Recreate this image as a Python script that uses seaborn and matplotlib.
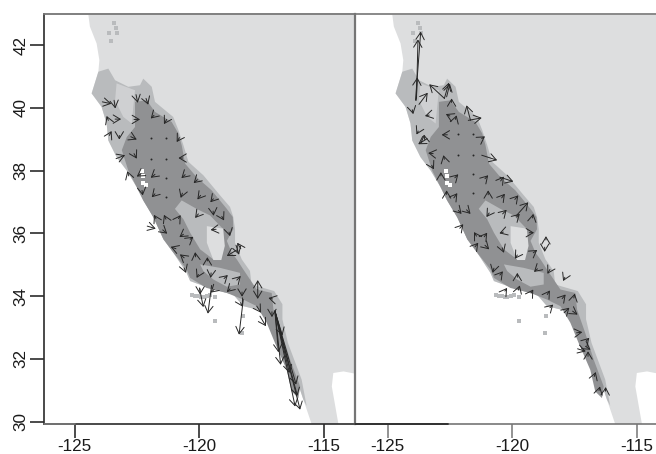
import numpy as np
import pandas as pd
import matplotlib
matplotlib.use("Agg")
import matplotlib.pyplot as plt
from matplotlib.patches import FancyArrowPatch
import seaborn as sns

# map outlines, lon / lat
land_lon = [-124.45,-124.39,-124.12,-124.01,-124.05,-124.32,-123.92,-123.72,-123.65,-123.32,-122.91,-122.51,-122.25,-121.84,-121.44,-121.04,-120.51,-120.37,-119.44,-118.64,-118.24,-117.17,-117.03,-116.50,-116.10,-115.83,-115.49,-114.42,-114.69,-114.63,-114.22,-113.2,-113.2]
land_lat = [42.96,42.59,42.05,41.52,41.15,40.46,40.03,39.50,38.96,38.43,38.00,37.47,37.05,36.52,35.81,35.38,34.74,34.48,34.21,34.05,33.68,33.47,32.93,32.19,31.34,30.70,29.90,29.90,31.12,31.55,31.60,31.44,42.96]

mid_lon = [-124.05,-123.65,-123.38,-122.85,-122.38,-122.25,-121.91,-121.78,-121.05,-120.84,-120.64,-120.44,-119.84,-119.17,-118.77,-118.64,-118.57,-118.57,-118.30,-117.97,-117.91,-117.00,-116.67,-116.67,-116.45,-115.90,-115.70,-115.83,-116.10,-116.50,-117.03,-117.17,-118.24,-118.64,-119.44,-120.37,-120.51,-121.04,-121.44,-121.84,-122.25,-122.51,-122.91,-123.32,-123.65,-123.72,-123.92,-124.32]
mid_lat = [41.15,41.25,40.88,40.67,40.72,40.93,40.67,40.19,39.71,39.29,38.81,38.28,37.85,37.21,36.84,36.52,36.13,35.70,35.17,34.80,34.37,34.16,33.74,33.26,32.51,31.34,30.50,30.70,31.34,32.19,32.93,33.47,33.68,34.05,34.21,34.48,34.74,35.38,35.81,36.52,37.05,37.47,38.00,38.43,38.96,39.50,40.03,40.46]

dark_lon = [-122.58,-122.11,-121.78,-121.11,-120.84,-120.71,-120.57,-120.11,-119.51,-118.90,-118.66,-118.64,-118.90,-118.70,-118.50,-118.24,-117.70,-117.10,-117.03,-116.70,-116.36,-115.96,-116.03,-116.30,-116.50,-116.97,-117.30,-117.70,-118.24,-118.90,-119.71,-120.37,-120.51,-121.04,-121.44,-121.84,-122.25,-122.51,-122.85,-123.11,-122.91,-122.58]
dark_lat = [40.19,40.24,39.87,39.55,39.18,38.81,38.22,37.79,37.37,36.78,36.52,36.13,35.76,35.38,35.17,34.85,34.21,34.10,33.57,32.82,31.97,31.12,30.75,30.96,31.65,32.51,33.15,33.68,33.89,34.10,34.26,34.58,34.85,35.38,35.81,36.50,37.05,37.47,38.00,38.65,39.07,39.39]

valley_lon = [-120.71,-120.11,-119.57,-119.04,-119.04,-119.10,-119.44,-119.97,-120.37,-120.64,-120.98]
valley_lat = [37.05,36.78,36.57,36.13,35.70,35.28,35.17,35.49,36.02,36.45,36.78]

south_lon = [-119.97,-119.17,-118.37,-118.37,-118.90,-119.44,-119.84]
south_lat = [35.01,34.90,34.74,34.37,34.30,34.53,34.80]

hole_lon = [-119.70,-119.05,-118.98,-119.12,-119.44,-119.70]
hole_lat = [36.23,36.15,35.60,35.15,35.15,35.70]

north_lon = [-123.32,-122.58,-122.65,-122.71,-123.05,-123.38]
north_lat = [40.78,40.56,40.03,39.50,39.71,40.24]

spot_lon = [-123.42,-123.34,-123.29,-123.63,-123.55,-120.30,-120.18,-120.05,-119.93,-119.84,-119.70,-119.57,-119.37,-119.37,-118.26,-118.30]
spot_lat = [42.69,42.53,42.39,42.39,42.12,34.02,34.00,34.00,33.98,33.98,34.00,34.02,33.98,33.20,33.36,32.83]

bay_lon = [-122.31,-122.26,-122.27,-122.15]
bay_lat = [37.99,37.83,37.60,37.53]

map_shift = 0.36  # right panel map sits this far west of the left one

# arrows, left panel
left_lon0 = [-123.89,-123.42,-123.65,-123.38,-122.62,-122.54,-122.14,-121.82,-121.31,-120.80,-123.61,-123.21,-122.75,-123.34,-122.62,-120.67,-122.83,-122.34,-121.78,-120.57,-120.08,-122.30,-121.78,-120.68,-119.95,-119.44,-120.04,-119.45,-119.10,-121.74,-121.34,-120.84,-122.09,-121.47,-120.64,-120.37,-120.94,-119.33,-118.81,-118.50,-118.53,-118.34,-120.61,-120.15,-119.68,-120.61,-120.04,-119.53,-119.01,-118.50,-118.77,-118.29,-117.66,-117.66,-117.07,-119.97,-120.00,-119.51,-119.41,-118.24,-118.35,-117.70,-117.57,-117.09,-116.97,-116.97,-116.97,-116.97,-116.97,-116.97,-116.97,-116.97]
left_lat0 = [40.19,40.24,39.60,39.64,39.63,40.42,40.30,39.76,39.63,39.05,39.12,39.12,39.08,38.38,38.54,38.40,37.83,37.90,37.88,37.87,37.71,37.37,37.26,37.28,37.21,37.10,36.62,36.71,36.54,36.47,36.45,36.47,36.23,36.11,35.97,35.81,35.51,36.13,36.04,35.47,35.62,35.51,35.22,35.25,35.12,34.90,34.69,34.74,34.56,34.51,34.23,34.13,34.21,34.21,33.91,34.23,34.26,34.34,34.21,33.89,33.79,33.68,33.36,33.50,33.52,33.52,33.52,33.52,33.52,33.52,33.52,33.52]
left_lon1 = [-123.53,-123.37,-123.72,-123.14,-122.38,-122.47,-122.05,-121.95,-121.42,-120.91,-123.52,-123.21,-122.51,-122.98,-122.51,-120.84,-122.89,-122.51,-121.95,-120.72,-120.23,-122.27,-121.91,-120.75,-120.08,-119.56,-120.17,-119.43,-119.01,-121.82,-121.42,-120.75,-121.75,-121.29,-120.80,-120.24,-121.15,-119.55,-118.77,-118.90,-118.41,-118.48,-120.78,-120.17,-119.68,-120.54,-120.11,-119.55,-118.86,-118.34,-118.90,-118.29,-117.66,-117.66,-117.23,-119.97,-119.84,-119.66,-119.55,-118.41,-118.26,-117.53,-117.33,-117.09,-115.96,-116.16,-116.07,-116.12,-116.39,-116.74,-116.83,-116.67]
left_lat1 = [40.13,39.98,39.74,39.64,39.63,40.16,40.10,39.66,39.48,38.91,39.26,38.99,38.99,38.49,38.38,38.40,37.98,37.81,37.77,37.76,37.60,37.21,37.15,37.13,37.08,36.99,36.49,36.56,36.41,36.59,36.59,36.58,36.15,35.99,35.88,35.89,35.57,36.11,35.91,35.28,35.32,35.70,35.33,35.40,35.24,34.74,34.58,34.58,34.67,34.64,34.13,33.98,34.51,33.91,33.94,34.05,33.65,33.44,34.11,32.77,33.66,33.47,33.04,33.33,30.38,30.48,30.82,31.18,31.55,31.81,32.21,32.74]

left_dot_lon = [-121.95,-121.34,-121.95,-121.34,-121.34,-121.34]
left_dot_lat = [39.05,39.05,38.38,38.38,37.76,37.15]

# arrows, right panel
right_lon0 = [-123.88,-123.84,-123.85,-123.74,-122.72,-122.72,-122.63,-124.01,-123.33,-122.43,-121.67,-121.76,-122.50,-122.28,-122.60,-121.22,-123.77,-123.41,-123.51,-123.17,-122.72,-121.22,-123.23,-122.86,-122.30,-121.09,-120.49,-120.46,-122.63,-122.34,-120.96,-120.42,-119.89,-119.82,-119.18,-119.82,-120.38,-120.92,-122.16,-121.83,-122.10,-121.43,-121.12,-121.49,-121.09,-120.35,-119.31,-120.40,-119.79,-119.15,-118.64,-118.69,-118.98,-118.48,-117.88,-120.73,-120.49,-119.79,-120.29,-119.75,-119.24,-118.59,-117.99,-117.52,-118.48,-117.91,-117.57,-117.41,-117.03,-117.05,-117.37,-116.95,-116.70,-116.51,-116.25]
right_lat0 = [40.24,40.30,40.24,40.11,40.30,40.30,40.35,39.94,39.77,40.17,39.60,39.60,39.74,39.63,39.14,39.02,39.26,39.02,38.99,38.54,38.36,38.49,38.17,37.83,37.77,37.74,37.79,37.67,37.24,37.13,37.23,37.13,37.08,36.57,36.49,36.52,36.62,36.65,36.73,36.75,36.16,35.91,35.89,35.57,35.62,36.04,36.02,35.54,35.31,35.38,35.79,35.56,34.87,34.85,34.60,34.89,34.67,34.60,34.16,34.19,34.10,34.05,33.92,33.94,33.63,33.47,33.52,32.83,32.56,32.40,32.32,32.08,31.44,30.99,30.97]
right_lon1 = [-123.67,-123.78,-123.81,-123.39,-123.33,-122.54,-122.50,-123.97,-123.50,-122.43,-121.83,-121.22,-122.66,-122.23,-122.83,-121.09,-123.84,-123.77,-123.54,-123.37,-122.76,-120.60,-123.14,-122.86,-122.16,-120.96,-119.95,-120.33,-122.63,-122.20,-120.96,-120.29,-119.75,-119.35,-119.15,-119.69,-120.22,-121.03,-122.03,-121.67,-121.96,-121.53,-121.00,-121.36,-120.92,-120.51,-119.12,-120.33,-119.89,-118.99,-118.64,-118.69,-119.12,-118.58,-117.95,-120.78,-120.37,-119.79,-120.20,-119.69,-119.15,-118.48,-117.85,-117.48,-118.35,-117.70,-117.37,-117.18,-116.90,-116.85,-117.04,-116.95,-116.64,-116.47,-116.24]
right_lat1 = [42.43,42.18,40.97,40.48,40.75,40.80,40.77,39.80,39.74,40.30,40.08,39.68,39.80,39.76,39.14,39.09,39.15,38.84,39.15,38.56,38.49,38.33,38.04,37.95,37.88,37.85,37.65,37.81,37.37,37.28,37.37,37.26,37.21,36.99,36.62,36.62,36.75,36.52,36.62,36.62,36.29,36.04,36.02,35.70,35.49,36.00,36.02,35.38,35.19,35.47,35.91,35.41,34.77,34.71,34.48,34.74,34.79,34.74,34.26,34.34,34.21,34.18,34.05,34.08,33.73,33.63,33.41,32.85,32.67,32.29,32.24,32.24,31.58,31.12,31.10]

right_dot_lon = [-122.19,-121.56,-122.19,-121.56,-121.56,-121.56]
right_dot_lat = [39.15,39.15,38.49,38.49,37.90,37.28]

x_ticks = [-125, -120, -115]
y_ticks = [30, 32, 34, 36, 38, 40, 42]

land_col = "#dddedf"
north_col = "#cfd0d2"
mid_col = "#b9bbbd"
dark_col = "#909193"
arrow_col = "#262626"
edge_dark = "#2b2b2b"
edge_grey = "#757575"

sns.set_theme(style="ticks")
plt.rcParams["font.family"] = ["Liberation Sans", "DejaVu Sans"]


def draw_panel(ax, shift, lon0, lat0, lon1, lat1, dot_lon, dot_lat):
    ax.fill(np.array(land_lon) - shift, land_lat, color=land_col, lw=0)
    ax.fill(np.array(mid_lon) - shift, mid_lat, color=mid_col, lw=0)
    ax.fill(np.array(north_lon) - shift, north_lat, color=north_col, lw=0)
    ax.fill(np.array(dark_lon) - shift, dark_lat, color=dark_col, lw=0)
    ax.fill(np.array(valley_lon) - shift, valley_lat, color=mid_col, lw=0)
    ax.fill(np.array(south_lon) - shift, south_lat, color=mid_col, lw=0)
    ax.fill(np.array(hole_lon) - shift, hole_lat, color=land_col, lw=0)

    spots = pd.DataFrame({"lon": np.array(spot_lon) - shift, "lat": spot_lat})
    sns.scatterplot(data=spots, x="lon", y="lat", ax=ax, marker="s", s=5,
                    color=mid_col, linewidth=0, legend=False)
    bay = pd.DataFrame({"lon": np.array(bay_lon) - shift, "lat": bay_lat})
    sns.scatterplot(data=bay, x="lon", y="lat", ax=ax, marker="s", s=10,
                    color="white", linewidth=0, legend=False)

    dots = pd.DataFrame({"lon": dot_lon, "lat": dot_lat})
    sns.scatterplot(data=dots, x="lon", y="lat", ax=ax, s=2,
                    color=arrow_col, linewidth=0, legend=False)

    for x0, y0, x1, y1 in zip(lon0, lat0, lon1, lat1):
        ax.add_patch(FancyArrowPatch((x0, y0), (x1, y1),
                                     arrowstyle="->,head_length=5,head_width=3",
                                     mutation_scale=1, shrinkA=0, shrinkB=0,
                                     lw=0.7, color=arrow_col))

    ax.set_ylim(29.94, 42.99)
    ax.set_xlabel("")
    ax.set_ylabel("")
    ax.set_xticks(x_ticks)
    ax.set_xticklabels([str(t) for t in x_ticks])
    ax.tick_params(axis="x", length=10, width=1.1, pad=1, labelsize=12.3,
                   colors="#1a1a1a")


fig = plt.figure(figsize=(6.56, 4.54), dpi=100)
ax1 = fig.add_axes([44 / 656, 30.5 / 454, 311 / 656, 409.5 / 454])
ax2 = fig.add_axes([355 / 656, 30.5 / 454, 301 / 656, 409.5 / 454])

draw_panel(ax1, 0, left_lon0, left_lat0, left_lon1, left_lat1, left_dot_lon, left_dot_lat)
draw_panel(ax2, map_shift, right_lon0, right_lat0, right_lon1, right_lat1, right_dot_lon, right_dot_lat)

ax1.set_xlim(-126.23, -113.76)
ax2.set_xlim(-126.31, -114.22)

ax1.set_yticks(y_ticks)
ax1.set_yticklabels([str(t) for t in y_ticks], rotation=90, va="center")
ax1.tick_params(axis="y", length=10, width=1.1, pad=1, labelsize=12.3, colors="#1a1a1a")
ax2.tick_params(axis="y", left=False, labelleft=False)
ax2.tick_params(axis="x", color=edge_grey)

ax1.spines["left"].set_color(edge_dark)
ax1.spines["left"].set_linewidth(1.2)
ax1.spines["bottom"].set_color(edge_dark)
ax1.spines["bottom"].set_linewidth(1.2)
for name in ["top", "right"]:
    ax1.spines[name].set_visible(True)
    ax1.spines[name].set_color(edge_grey)
    ax1.spines[name].set_linewidth(1.3)
for name in ["top", "bottom"]:
    ax2.spines[name].set_visible(True)
    ax2.spines[name].set_color(edge_grey)
    ax2.spines[name].set_linewidth(1.2)
# divider between the panels, ax2 sits on top so it has to carry it
ax2.spines["left"].set_visible(True)
ax2.spines["left"].set_color(edge_grey)
ax2.spines["left"].set_linewidth(1.6)
ax2.spines["right"].set_visible(False)

# the bottom edge changes shade along its length
ax1.plot([0, 0.099], [0, 0], transform=ax1.transAxes, color=edge_grey, lw=1.3,
         clip_on=False, zorder=5)
ax2.plot([0, 0.31], [0, 0], transform=ax2.transAxes, color=edge_dark, lw=1.3,
         clip_on=False, zorder=5)

fig.savefig("out.png", dpi=100)
